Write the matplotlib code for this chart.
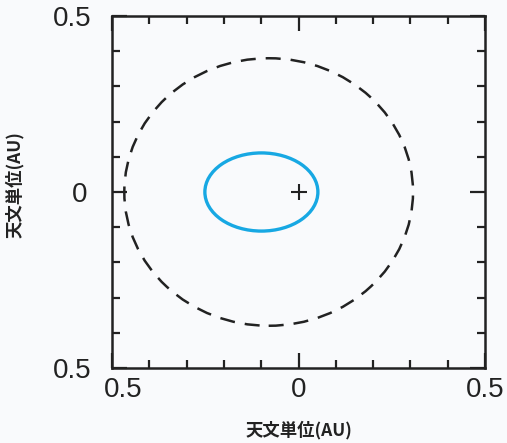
import matplotlib
matplotlib.use("Agg")
import matplotlib.pyplot as plt
from matplotlib.patches import Ellipse
from matplotlib.transforms import ScaledTranslation

# data (AU)
outer_center = [-0.08, 0.0]
outer_semi_axes = [0.387, 0.380]
inner_center = [-0.0995, 0.0]
inner_semi_axes = [0.1515, 0.111]
star_pos = [0.0, 0.0]
major_ticks = [-0.5, 0.0, 0.5]
tick_labels = ["0.5", "0", "0.5"]
minor_ticks = [-0.4, -0.3, -0.2, -0.1, 0.1, 0.2, 0.3, 0.4]

bg = "#f9fafc"
fig = plt.figure(figsize=(5.07, 4.43), dpi=100, facecolor=bg)
ax = fig.add_axes([112/507, 1-368/443, 373/507, 352/443], facecolor=bg)

ax.add_patch(Ellipse(outer_center, 2*outer_semi_axes[0], 2*outer_semi_axes[1],
                     fill=False, edgecolor="#222222", lw=1.8, linestyle=(0, (6, 4))))
ax.add_patch(Ellipse(inner_center, 2*inner_semi_axes[0], 2*inner_semi_axes[1],
                     fill=False, edgecolor="#17a8e3", lw=2.4))
ax.plot([star_pos[0]], [star_pos[1]], marker="+", color="#222222", ms=12, mew=1.5)

ax.set_xlim(-0.5, 0.5)
ax.set_ylim(-0.5, 0.5)
for s in ax.spines.values():
    s.set_linewidth(1.8)
    s.set_color("#222222")

ax.set_xticks(major_ticks)
ax.set_xticklabels(tick_labels)
ax.set_yticks(major_ticks)
ax.set_yticklabels(tick_labels)
ax.set_xticks(minor_ticks, minor=True)
ax.set_yticks(minor_ticks, minor=True)
ax.tick_params(which="both", direction="in", top=True, right=True, color="#222222",
               width=1.6, labelcolor="#222222", labelsize=20)
ax.tick_params(which="major", length=10.5)
ax.tick_params(which="minor", length=6)
ax.tick_params(axis="x", which="major", pad=6.5)
ax.tick_params(axis="y", which="major", pad=14.5)
for lab in ax.get_xticklabels() + ax.get_yticklabels():
    lab.set_family(["Liberation Sans", "DejaVu Sans"])

# shift the left x label and the y "0" label like the original layout
xl = ax.get_xticklabels()[0]
xl.set_transform(xl.get_transform() + ScaledTranslation(11/100, 0, fig.dpi_scale_trans))
yl = ax.get_yticklabels()[1]
yl.set_transform(yl.get_transform() + ScaledTranslation(-4/100, 0, fig.dpi_scale_trans))

cjk = ["Noto Sans CJK JP", "DejaVu Sans"]
ax.set_xlabel("天文単位(AU)", family=cjk, fontsize=12.5, fontweight="bold",
              color="#222222", va="top")
ax.set_ylabel("天文単位(AU)", family=cjk, fontsize=12.5, fontweight="bold",
              color="#222222")
ax.xaxis.set_label_coords(0.5, (368-421)/352)
ax.yaxis.set_label_coords((24-112)/373, (368-185)/352)

fig.savefig("out.png", dpi=100, facecolor=bg)
